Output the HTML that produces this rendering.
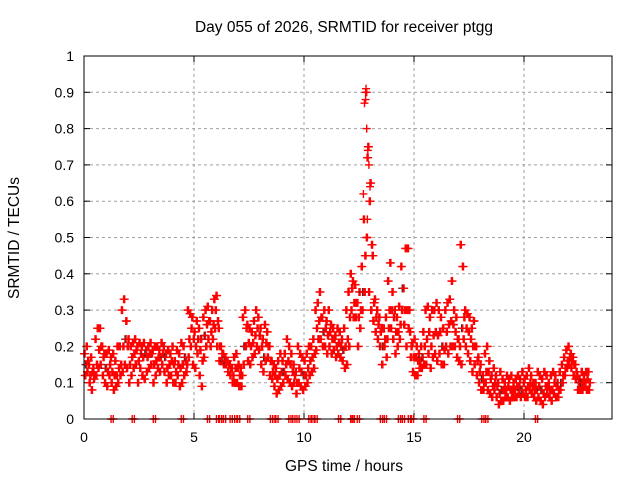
<!DOCTYPE html>
<html><head><meta charset="utf-8"><style>
body{margin:0;background:#fff;}
svg{display:block;font-family:"Liberation Sans",sans-serif;}
</style></head><body>
<svg id="chart" width="640" height="480" viewBox="0 0 640 480" xmlns="http://www.w3.org/2000/svg">
<rect width="640" height="480" fill="#fff"/>
<text x="344" y="32" font-size="15.5" text-anchor="middle">Day 055 of 2026, SRMTID for receiver ptgg</text>
<text transform="translate(19,238) rotate(-90)" font-size="15.5" text-anchor="middle">SRMTID / TECUs</text>
<text x="344" y="471" font-size="15.5" text-anchor="middle">GPS time / hours</text>
<g id="grid"></g><g id="axes"></g><g id="marks"></g>
<rect x="84" y="56" width="528" height="363" fill="none" stroke="#000" stroke-width="1"/>
</svg>
<script>
const yTicks=[0,0.1,0.2,0.3,0.4,0.5,0.6,0.7,0.8,0.9,1];
const yTickLabels=["0","0.1","0.2","0.3","0.4","0.5","0.6","0.7","0.8","0.9","1"];
const xTicks=[0,5,10,15,20];
const xTickLabels=["0","5","10","15","20"];
const tStart=0, tStep=0.1;
const seriesHigh=[0.18,0.2,0.15,0.17,0.14,0.22,0.25,0.25,0.2,0.18,0.18,0.19,0.17,0.18,0.16,0.2,0.2,0.3,0.33,0.27,0.22,0.2,0.21,0.22,0.2,0.21,0.2,0.21,0.19,0.2,0.21,0.19,0.2,0.2,0.19,0.21,0.2,0.18,0.19,0.18,0.2,0.16,0.19,0.18,0.21,0.2,0.16,0.3,0.29,0.28,0.24,0.27,0.25,0.22,0.28,0.3,0.31,0.27,0.3,0.33,0.34,0.25,0.2,0.18,0.17,0.16,0.15,0.14,0.17,0.18,0.15,0.14,0.28,0.3,0.26,0.25,0.24,0.27,0.3,0.28,0.25,0.22,0.26,0.24,0.2,0.16,0.15,0.14,0.16,0.18,0.16,0.18,0.22,0.2,0.18,0.15,0.13,0.2,0.18,0.17,0.16,0.18,0.2,0.2,0.22,0.3,0.32,0.35,0.28,0.3,0.27,0.3,0.26,0.25,0.23,0.25,0.24,0.22,0.25,0.3,0.35,0.4,0.38,0.37,0.32,0.35,0.42,0.55,0.9,0.75,0.65,0.45,0.33,0.3,0.28,0.25,0.25,0.28,0.38,0.43,0.35,0.3,0.28,0.31,0.42,0.36,0.47,0.47,0.24,0.21,0.22,0.2,0.18,0.2,0.24,0.3,0.31,0.28,0.3,0.3,0.32,0.3,0.28,0.25,0.3,0.32,0.33,0.38,0.3,0.28,0.22,0.48,0.42,0.3,0.29,0.28,0.25,0.27,0.2,0.17,0.15,0.12,0.18,0.2,0.16,0.12,0.14,0.12,0.1,0.13,0.11,0.1,0.12,0.11,0.12,0.1,0.11,0.12,0.11,0.13,0.11,0.12,0.14,0.12,0.1,0.1,0.13,0.12,0.11,0.13,0.12,0.1,0.12,0.13,0.12,0.1,0.13,0.15,0.17,0.19,0.2,0.18,0.17,0.15,0.12,0.11,0.13,0.12,0.13,0.13];
const seriesLow=[0.12,0.13,0.1,0.08,0.11,0.12,0.14,0.15,0.12,0.1,0.09,0.12,0.1,0.08,0.09,0.1,0.12,0.13,0.15,0.14,0.1,0.12,0.14,0.15,0.1,0.14,0.12,0.11,0.13,0.14,0.15,0.1,0.12,0.14,0.13,0.15,0.13,0.1,0.12,0.12,0.1,0.1,0.12,0.09,0.1,0.12,0.13,0.17,0.2,0.15,0.14,0.18,0.12,0.09,0.17,0.2,0.22,0.2,0.22,0.25,0.2,0.16,0.16,0.15,0.15,0.13,0.12,0.1,0.1,0.1,0.09,0.09,0.15,0.2,0.16,0.15,0.17,0.18,0.2,0.19,0.15,0.13,0.16,0.17,0.12,0.11,0.09,0.07,0.08,0.09,0.1,0.12,0.11,0.1,0.09,0.1,0.07,0.1,0.09,0.08,0.09,0.1,0.12,0.13,0.14,0.19,0.22,0.22,0.2,0.2,0.18,0.2,0.18,0.19,0.17,0.18,0.17,0.16,0.14,0.15,0.2,0.3,0.28,0.28,0.2,0.25,0.3,0.35,0.5,0.35,0.3,0.27,0.24,0.22,0.2,0.15,0.2,0.17,0.25,0.25,0.22,0.18,0.2,0.22,0.3,0.26,0.2,0.25,0.17,0.13,0.12,0.12,0.14,0.14,0.15,0.15,0.18,0.14,0.17,0.18,0.16,0.18,0.15,0.15,0.2,0.18,0.2,0.2,0.2,0.17,0.16,0.15,0.22,0.2,0.18,0.16,0.13,0.15,0.12,0.1,0.08,0.08,0.1,0.08,0.07,0.06,0.08,0.06,0.04,0.05,0.05,0.06,0.06,0.05,0.06,0.06,0.06,0.07,0.06,0.07,0.06,0.06,0.08,0.07,0.06,0.05,0.06,0.05,0.04,0.06,0.07,0.06,0.05,0.07,0.06,0.06,0.08,0.1,0.12,0.14,0.15,0.14,0.12,0.11,0.08,0.08,0.08,0.09,0.08,0.08];
const seriesMid=[0.15,0.16,0.12,0.13,0.12,0.15,0.19,0.2,0.17,0.14,0.13,0.15,0.13,0.12,0.12,0.14,0.15,0.2,0.22,0.2,0.15,0.17,0.18,0.19,0.16,0.18,0.17,0.18,0.17,0.18,0.18,0.15,0.16,0.17,0.17,0.18,0.17,0.14,0.15,0.16,0.15,0.13,0.15,0.14,0.15,0.17,0.15,0.22,0.25,0.22,0.2,0.22,0.19,0.16,0.23,0.26,0.27,0.24,0.26,0.3,0.27,0.2,0.18,0.16,0.16,0.15,0.14,0.12,0.14,0.14,0.12,0.12,0.2,0.25,0.21,0.2,0.21,0.23,0.25,0.23,0.2,0.17,0.21,0.2,0.16,0.13,0.12,0.11,0.12,0.13,0.13,0.15,0.16,0.15,0.13,0.12,0.1,0.14,0.13,0.12,0.12,0.14,0.16,0.17,0.18,0.25,0.27,0.28,0.24,0.25,0.23,0.24,0.22,0.22,0.2,0.21,0.2,0.19,0.2,0.22,0.28,0.36,0.32,0.32,0.28,0.3,0.35,0.45,0.72,0.6,0.48,0.32,0.28,0.26,0.24,0.2,0.22,0.22,0.3,0.3,0.28,0.24,0.24,0.26,0.36,0.3,0.3,0.3,0.2,0.17,0.17,0.16,0.16,0.17,0.2,0.22,0.24,0.2,0.23,0.24,0.23,0.24,0.2,0.19,0.24,0.26,0.27,0.26,0.24,0.22,0.2,0.25,0.28,0.25,0.24,0.22,0.2,0.2,0.16,0.13,0.11,0.1,0.13,0.13,0.11,0.09,0.1,0.09,0.07,0.08,0.08,0.08,0.09,0.08,0.08,0.08,0.09,0.09,0.08,0.1,0.08,0.09,0.1,0.09,0.08,0.08,0.09,0.08,0.07,0.09,0.09,0.08,0.08,0.1,0.09,0.08,0.1,0.12,0.14,0.16,0.17,0.16,0.15,0.13,0.1,0.1,0.1,0.1,0.11,0.1];
const spikeTimes=[12.75,12.8,12.82,12.85,12.9,12.95,13.0,12.7,12.88];
const spikeValues=[0.87,0.88,0.91,0.8,0.74,0.7,0.64,0.62,0.55];
const zeroTimes=[1.28,2.24,3.2,4.47,5.66,6.07,6.21,6.39,6.69,6.9,7.03,7.49,8.52,8.63,8.77,9.36,9.54,9.73,10.27,10.41,10.55,11.62,12.17,12.24,12.47,13.52,13.7,14.34,14.52,14.79,14.93,15.5,17.03,18.13,18.31,20.57];

const X0=84,X1=612,Y0=419,Y1=56,XMAX=24,YMAX=1;
const xs=t=>X0+(t/XMAX)*(X1-X0);
const ys=v=>Y0-(v/YMAX)*(Y0-Y1);
const NS="http://www.w3.org/2000/svg";
function mk(tag,attrs,parent){const e=document.createElementNS(NS,tag);for(const k in attrs)e.setAttribute(k,attrs[k]);parent.appendChild(e);return e;}
const grid=document.getElementById('grid'),axes=document.getElementById('axes'),marks=document.getElementById('marks');
yTicks.forEach((v,i)=>{
  const y=ys(v);
  if(v>0&&v<YMAX){const g=mk('line',{x1:X0,x2:X1,y1:y,y2:y,stroke:'#a0a0a0','stroke-dasharray':'3,3'},grid);
  
  }
  const t1=mk('line',{x1:X0,x2:X0+6,y1:y,y2:y,stroke:'#000'},axes);
  
  
  mk('line',{x1:X1,x2:X1-6,y1:y,y2:y,stroke:'#000'},axes);
  const l=mk('text',{x:X0-10,y:y+5,'font-size':'14','text-anchor':'end'},axes);l.textContent=yTickLabels[i];
  
  
});
xTicks.forEach((t,i)=>{
  const x=xs(t);
  if(t>0){const g=mk('line',{x1:x,x2:x,y1:Y0,y2:Y1,stroke:'#a0a0a0','stroke-dasharray':'3,3'},grid);
  
  }
  const t1=mk('line',{x1:x,x2:x,y1:Y0,y2:Y0-6,stroke:'#000'},axes);
  
  
  mk('line',{x1:x,x2:x,y1:Y1,y2:Y1+6,stroke:'#000'},axes);
  const l=mk('text',{x:x,y:Y0+23,'font-size':'14','text-anchor':'middle'},axes);l.textContent=xTickLabels[i];
  
  
});
function cross(t,v,color,name){
  const x=xs(t),y=ys(v);
  const p=mk('path',{d:`M${x-4},${y}h8M${x},${y-4}v8`,stroke:color,'stroke-width':'1.4',fill:'none'},marks);
  
  
}
[seriesHigh,seriesLow,seriesMid].forEach((arr,si)=>{
  arr.forEach((v,i)=>{
    const t=tStart+i*tStep+si*0.033;
    cross(t,v,(si===2&&i%9===0)?'#333':'#f00','srmtid-point');
    cross(t+0.05,v,'#f00','srmtid-point');
  });
});
spikeTimes.forEach((t,i)=>cross(t,spikeValues[i],'#f00','srmtid-spike-point'));
zeroTimes.forEach(t=>{cross(t-0.05,0,'#f00','zero-point');cross(t+0.05,0,'#f00','zero-point');});
</script>
</body></html>
